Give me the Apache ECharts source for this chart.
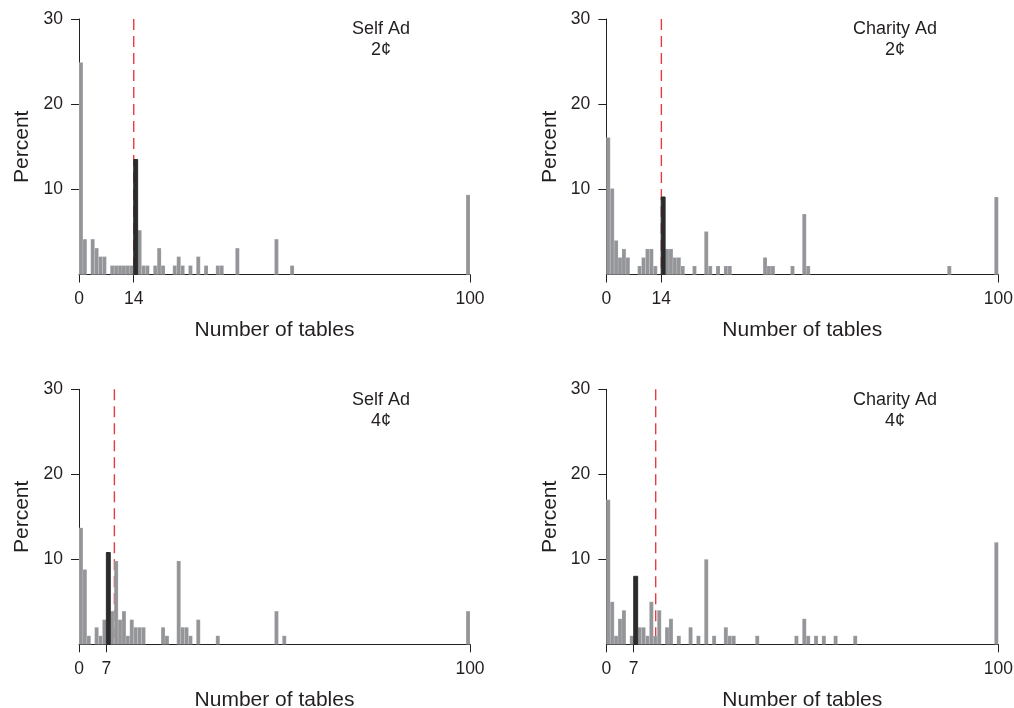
<!DOCTYPE html>
<html><head><meta charset="utf-8">
<script src="https://cdn.jsdelivr.net/npm/echarts@6/dist/echarts.min.js"></script>
<style>html,body{margin:0;padding:0;background:#fff}#c{width:1014px;height:708px}</style>
</head><body><div id="c"></div>
<script>
// Panel titles
const panelTitles = ['Self Ad\n2¢', 'Charity Ad\n2¢', 'Self Ad\n4¢', 'Charity Ad\n4¢'];
// Histogram bins (lower edge, number of tables) and percent per bin
const selfAd2Bins = [0,1,3,4,5,6,8,9,10,11,12,13,14,15,16,17,19,20,21,24,25,26,28,30,32,35,36,40,50,54,99];
const selfAd2Pct  = [24.9,4.15,4.15,3.1,2.1,2.1,1.05,1.05,1.05,1.05,1.05,1.05,13.5,5.2,1.05,1.05,1.05,3.1,1.05,1.05,2.1,1.05,1.05,2.1,1.05,1.05,1.05,3.1,4.15,1.05,9.35];
const charityAd2Bins = [0,1,2,3,4,5,8,9,10,11,12,14,15,16,17,18,19,22,25,26,28,30,31,40,41,42,47,50,51,87,99];
const charityAd2Pct  = [16.1,10.1,4.0,2.0,3.0,2.0,1.0,2.0,3.0,3.0,1.0,9.1,3.0,3.0,2.0,2.0,1.0,1.0,5.05,1.0,1.0,1.0,1.0,2.0,1.0,1.0,1.0,7.1,1.0,1.0,9.1];
const selfAd4Bins = [0,1,2,4,5,6,7,8,9,10,11,12,13,14,15,16,21,22,25,26,27,28,30,35,50,52,99];
const selfAd4Pct  = [13.7,8.8,1.0,2.0,1.0,2.9,10.8,3.9,9.8,2.9,3.9,1.0,2.9,2.0,2.0,2.0,2.0,1.0,9.8,2.0,2.0,1.0,2.9,1.0,3.9,1.0,3.9];
const charityAd4Bins = [0,1,2,3,4,6,7,8,9,10,11,12,13,15,16,18,21,23,25,27,30,31,32,38,48,50,51,53,55,58,63,99];
const charityAd4Pct  = [17.0,5.0,1.0,3.0,4.0,1.0,8.0,2.0,2.0,1.0,5.0,1.0,4.0,2.0,3.0,1.0,2.0,1.0,10.0,1.0,2.0,1.0,1.0,1.0,1.0,3.0,1.0,1.0,1.0,1.0,1.0,12.0];
// Highlighted (black) bin per panel
const highlightBins = [14, 14, 7, 7];
// Dashed reference line position per panel
const dashedLineX = [14, 14.05, 9.05, 12.6];
// X tick labels per panel
const xTicks = [[0,14,100],[0,14,100],[0,7,100],[0,7,100]];
const yTicks = [10, 20, 30];

const binsList = [selfAd2Bins, charityAd2Bins, selfAd4Bins, charityAd4Bins];
const pctList = [selfAd2Pct, charityAd2Pct, selfAd4Pct, charityAd4Pct];

const FONT = '"Liberation Sans", Arial, Helvetica, sans-serif';
const INK = '#231f20';
const grids = [
  {left: 79, top: 19, width: 391, height: 255.5, outerBoundsMode: 'none', containLabel: false},
  {left: 606.3, top: 19, width: 392, height: 255.5, outerBoundsMode: 'none', containLabel: false},
  {left: 79, top: 389.3, width: 391, height: 255, outerBoundsMode: 'none', containLabel: false},
  {left: 606.3, top: 389.3, width: 392, height: 255, outerBoundsMode: 'none', containLabel: false}
];
const titlePos = [[381, 19], [895, 19], [381, 389.5], [895, 389.5]];

function barRender(color) {
  return function (params, api) {
    const b = api.value(0), h = api.value(1);
    const p0 = api.coord([b, 0]);
    const p1 = api.coord([b + 1, h]);
    return {
      type: 'rect',
      shape: {x: p0[0], y: p1[1], width: p1[0] - p0[0], height: p0[1] - p1[1]},
      style: {fill: color, stroke: color === '#939598' ? 'rgba(255,255,255,0.35)' : color, lineWidth: color === '#939598' ? 0.4 : 1}
    };
  };
}

const xAxis = [], yAxis = [], series = [], title = [];
for (let i = 0; i < 4; i++) {
  title.push({
    text: panelTitles[i], left: titlePos[i][0], top: titlePos[i][1], textAlign: 'center', padding: 0,
    textStyle: {fontFamily: FONT, fontSize: 18, fontWeight: 'normal', color: INK, lineHeight: 21, align: 'center'}
  });
  xAxis.push({
    type: 'value', gridIndex: i, min: 0, max: 100,
    name: 'Number of tables', nameLocation: 'middle', nameGap: 45,
    nameTextStyle: {fontFamily: FONT, fontSize: 21, color: INK},
    axisLine: {show: true, onZero: false, lineStyle: {color: INK, width: 1}},
    axisTick: {show: true, length: 8, customValues: xTicks[i], lineStyle: {color: INK}},
    axisLabel: {customValues: xTicks[i], margin: 16, fontFamily: FONT, fontSize: 17.5, color: INK},
    splitLine: {show: false}
  });
  yAxis.push({
    type: 'value', gridIndex: i, min: 0, max: 30, interval: 10,
    name: 'Percent', nameLocation: 'middle', nameGap: 46,
    nameTextStyle: {fontFamily: FONT, fontSize: 21, color: INK},
    axisLine: {show: true, onZero: false, lineStyle: {color: INK, width: 1}},
    axisTick: {show: true, length: 8, customValues: yTicks, lineStyle: {color: INK}},
    axisLabel: {customValues: yTicks, margin: 16, fontFamily: FONT, fontSize: 17.5, color: INK},
    splitLine: {show: false}
  });
  const gray = [], dark = [];
  binsList[i].forEach((b, k) => {
    (b === highlightBins[i] ? dark : gray).push([b, pctList[i][k]]);
  });
  series.push({
    type: 'line', xAxisIndex: i, yAxisIndex: i, z: 1, symbol: 'none', silent: true,
    data: [[dashedLineX[i], 30], [dashedLineX[i], 0]],
    lineStyle: {color: '#e63a44', width: 1.4, type: [11, 6]}
  });
  series.push({
    type: 'custom', xAxisIndex: i, yAxisIndex: i, z: 2, data: gray,
    renderItem: barRender('#939598')
  });
  series.push({
    type: 'custom', xAxisIndex: i, yAxisIndex: i, z: 3, data: dark,
    renderItem: barRender('#2b2b2c')
  });
}

const chart = echarts.init(document.getElementById('c'), null, {renderer: 'canvas'});
chart.setOption({
  backgroundColor: '#ffffff',
  animation: false,
  title: title,
  grid: grids,
  xAxis: xAxis,
  yAxis: yAxis,
  series: series
});
</script>
</body></html>
